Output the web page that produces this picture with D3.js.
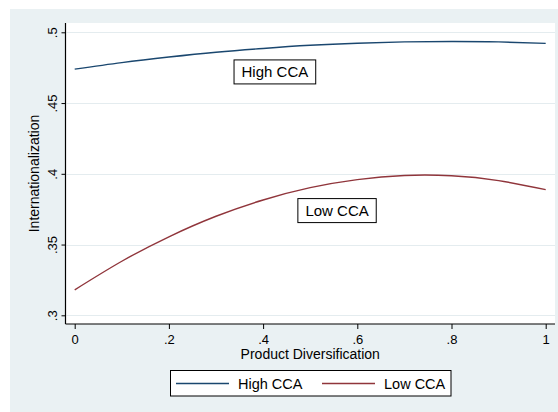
<!DOCTYPE html>
<html>
<head>
<meta charset="utf-8">
<script src="https://cdn.jsdelivr.net/npm/d3@7"></script>
<style>
  html, body { margin: 0; padding: 0; background: #ffffff; }
  svg { display: block; font-family: "Liberation Sans", Arial, sans-serif; }
</style>
</head>
<body>
<svg id="chart" width="558" height="412"></svg>
<script>
// Predicted internationalization across product diversification, by CCA group
const diversification = [0, 0.1, 0.2, 0.3, 0.4, 0.5, 0.6, 0.7, 0.8, 0.9, 1.0];
const highCCA = [0.4740, 0.4786, 0.4825, 0.4859, 0.4886, 0.4908, 0.4923, 0.4932, 0.4935, 0.4932, 0.4922];
const lowCCA  = [0.3180, 0.3382, 0.3555, 0.3700, 0.3815, 0.3902, 0.3959, 0.3988, 0.3986, 0.3952, 0.3888];

const xTicks = [0, 0.2, 0.4, 0.6, 0.8, 1];
const xTickLabels = ["0", ".2", ".4", ".6", ".8", "1"];
const yTicks = [0.3, 0.35, 0.4, 0.45, 0.5];
const yTickLabels = [".3", ".35", ".4", ".45", ".5"];

const seriesNames = ["High CCA", "Low CCA"];
const seriesColors = ["#1a476f", "#90353b"];

// In-plot labels, placed in data coordinates
const labelText = ["High CCA", "Low CCA"];
const labelX = [0.425, 0.557];
const labelY = [0.472, 0.374];

const svg = d3.select("#chart");

// Graph region background
svg.append("rect")
  .attr("x", 10).attr("y", 9)
  .attr("width", 548).attr("height", 403)
  .attr("fill", "#eaf1f3");

// Plot region
const plotLeft = 65.5, plotRight = 555, plotTop = 23, plotBottom = 324;
svg.append("rect")
  .attr("x", plotLeft).attr("y", plotTop)
  .attr("width", plotRight - plotLeft).attr("height", plotBottom - plotTop)
  .attr("fill", "#ffffff");

const x = d3.scaleLinear().domain([0, 1]).range([74.7, 545.7]);
const y = d3.scaleLinear().domain([0.3, 0.5]).range([315.3, 32.3]);

// Horizontal gridlines
svg.append("g")
  .selectAll("line")
  .data(yTicks)
  .join("line")
  .attr("x1", plotLeft + 1).attr("x2", plotRight)
  .attr("y1", d => Math.round(y(d)) + 0.5).attr("y2", d => Math.round(y(d)) + 0.5)
  .attr("stroke", "#e4ecef")
  .attr("stroke-width", 1);

// Y axis
const yAxis = d3.axisLeft(y)
  .tickValues(yTicks)
  .tickFormat((d, i) => yTickLabels[i])
  .tickSize(4)
  .tickPadding(3);
const gy = svg.append("g")
  .attr("transform", `translate(${plotLeft},0)`)
  .call(yAxis);
gy.select(".domain")
  .attr("d", `M0,${plotTop}V${plotBottom}`)
  .attr("stroke", "#000").attr("stroke-width", 1.2);
gy.selectAll(".tick line").attr("stroke", "#000").attr("stroke-width", 1);
gy.selectAll(".tick text")
  .attr("font-size", 13)
  .attr("fill", "#000")
  .attr("transform", "rotate(-90)")
  .attr("x", 0)
  .attr("y", -9)
  .attr("dy", 0)
  .attr("text-anchor", "middle");

// X axis
const xAxis = d3.axisBottom(x)
  .tickValues(xTicks)
  .tickFormat((d, i) => xTickLabels[i])
  .tickSize(5)
  .tickPadding(3);
const gx = svg.append("g")
  .attr("transform", `translate(0,${plotBottom})`)
  .call(xAxis);
gx.select(".domain")
  .attr("d", `M${plotLeft},0H${plotRight}`)
  .attr("stroke", "#000").attr("stroke-width", 1.2);
gx.selectAll(".tick line").attr("stroke", "#000").attr("stroke-width", 1);
gx.selectAll(".tick text")
  .attr("font-size", 13)
  .attr("fill", "#000")
  .attr("dy", 0)
  .attr("y", 20);

svg.selectAll(".domain").attr("fill", "none");
svg.selectAll("g").attr("font-family", null);

// Axis titles
svg.append("text")
  .attr("x", (plotLeft + plotRight) / 2)
  .attr("y", 359)
  .attr("text-anchor", "middle")
  .attr("font-size", 14)
  .text("Product Diversification");

svg.append("text")
  .attr("transform", `translate(39,${(plotTop + plotBottom) / 2}) rotate(-90)`)
  .attr("text-anchor", "middle")
  .attr("font-size", 14)
  .text("Internationalization");

// Fitted lines
const seriesValues = [highCCA, lowCCA];
const line = d3.line()
  .x((d, i) => x(diversification[i]))
  .y(d => y(d))
  .curve(d3.curveNatural);

svg.append("g")
  .selectAll("path")
  .data(seriesValues)
  .join("path")
  .attr("d", d => line(d))
  .attr("fill", "none")
  .attr("stroke", (d, i) => seriesColors[i])
  .attr("stroke-width", 1.4);

// Boxed in-plot labels
labelText.forEach((t, i) => {
  const g = svg.append("g")
    .attr("transform", `translate(${x(labelX[i])},${y(labelY[i])})`);
  const txt = g.append("text")
    .attr("text-anchor", "middle")
    .attr("dy", "0.36em")
    .attr("font-size", 15)
    .text(t);
  const bb = txt.node().getBBox();
  g.insert("rect", "text")
    .attr("x", bb.x - 7.5).attr("y", -12)
    .attr("width", bb.width + 15).attr("height", 24)
    .attr("fill", "#ffffff")
    .attr("stroke", "#000")
    .attr("stroke-width", 1);
});

// Legend
const legend = svg.append("g");
legend.append("rect")
  .attr("x", 170.5).attr("y", 370.5)
  .attr("width", 280.5).attr("height", 25.5)
  .attr("fill", "#ffffff")
  .attr("stroke", "#000")
  .attr("stroke-width", 1);
const legendKeyX = [176, 322];
seriesNames.forEach((name, i) => {
  legend.append("line")
    .attr("x1", legendKeyX[i]).attr("x2", legendKeyX[i] + 53)
    .attr("y1", 383.5).attr("y2", 383.5)
    .attr("stroke", seriesColors[i])
    .attr("stroke-width", 1.4);
  legend.append("text")
    .attr("x", legendKeyX[i] + 62)
    .attr("y", 383.5)
    .attr("dy", "0.36em")
    .attr("font-size", 14.5)
    .text(name);
});
</script>
</body>
</html>
